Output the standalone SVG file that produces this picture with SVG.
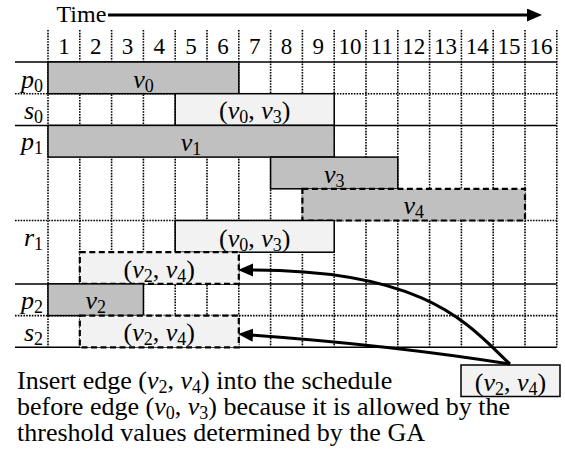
<svg xmlns="http://www.w3.org/2000/svg" width="565" height="458" viewBox="0 0 565 458" font-family="Liberation Serif">
<style>
text{font-family:"Liberation Serif","Times New Roman",serif;font-size:26px;fill:#000}
.hd{font-size:23px}
.tm{font-size:24px}
.i{font-style:italic}
.sub{font-size:18px;font-style:normal}
.m{text-anchor:middle}
.e{text-anchor:end}
.vd{stroke:#000;stroke-width:1.6;stroke-dasharray:1.6 1.2;fill:none}
.hs{stroke:#000;stroke-width:1.5;fill:none}
.dk{fill:#c0c0c0;stroke:#000;stroke-width:1.5}
.lt{fill:#f2f2f2;stroke:#000;stroke-width:1.5}
.dsh{stroke-dasharray:6 3.5;stroke-width:2.2}
.conn{fill:none;stroke:#000;stroke-width:3}
</style>
<defs>
<marker id="ah" markerUnits="userSpaceOnUse" markerWidth="16" markerHeight="14" refX="2" refY="6.5" orient="auto">
<path d="M0,0 L15,6.5 L0,13 z" fill="#000"/>
</marker>
</defs>
<rect width="565" height="458" fill="#fff"/>

<g id="header">
<text class="tm" x="56.5" y="22">Time</text>
<text class="hd m" x="63.9" y="54">1</text><text class="hd m" x="95.7" y="54">2</text><text class="hd m" x="127.5" y="54">3</text><text class="hd m" x="159.3" y="54">4</text>
<text class="hd m" x="191.1" y="54">5</text><text class="hd m" x="222.9" y="54">6</text><text class="hd m" x="254.7" y="54">7</text><text class="hd m" x="286.5" y="54">8</text>
<text class="hd m" x="318.3" y="54">9</text><text class="hd m" x="350.1" y="54">10</text><text class="hd m" x="381.9" y="54">11</text><text class="hd m" x="413.7" y="54">12</text>
<text class="hd m" x="445.5" y="54">13</text><text class="hd m" x="477.3" y="54">14</text><text class="hd m" x="509.1" y="54">15</text><text class="hd m" x="540.9" y="54">16</text>
</g>

<g id="grid">
<path class="vd" d="M48,30V347.3M79.8,30V347.3M111.6,30V347.3M143.4,30V347.3M175.2,30V347.3M207,30V347.3M238.8,30V347.3M270.6,30V347.3M302.4,30V347.3M334.2,30V347.3M366,30V347.3M397.8,30V347.3M429.6,30V347.3M461.4,30V347.3M493.2,30V347.3M525,30V347.3M556.8,30V347.3"/>
<path class="vd" d="M15,93.7H556.8M15,220.5H556.8M15,315.6H556.8"/>
<path class="hs" d="M15,62H556.8M15,125.4H556.8M15,283.9H556.8M15,347.3H556.8"/>
</g>

<g id="row-labels">
<text class="e" x="43" y="87.5"><tspan class="i">p</tspan><tspan class="sub" dy="4">0</tspan></text>
<text class="e" x="43" y="118.7"><tspan class="i">s</tspan><tspan class="sub" dy="4">0</tspan></text>
<text class="e" x="43" y="150.4"><tspan class="i">p</tspan><tspan class="sub" dy="4">1</tspan></text>
<text class="e" x="43" y="245.8"><tspan class="i">r</tspan><tspan class="sub" dy="4">1</tspan></text>
<text class="e" x="43" y="309.4"><tspan class="i">p</tspan><tspan class="sub" dy="4">2</tspan></text>
<text class="e" x="43" y="341"><tspan class="i">s</tspan><tspan class="sub" dy="4">2</tspan></text>
</g>

<g id="v0">
<rect class="dk" x="48" y="62" width="190.8" height="31.7"/>
<text class="m" x="143.4" y="87.5"><tspan class="i">v</tspan><tspan class="sub" dy="4">0</tspan></text>
</g>
<g id="s0-v0v3">
<rect class="lt" x="175.2" y="93.7" width="159" height="31.7"/>
<text class="m" x="254.7" y="119.2">(<tspan class="i">v</tspan><tspan class="sub" dy="4">0</tspan><tspan dy="-4">, </tspan><tspan class="i">v</tspan><tspan class="sub" dy="4">3</tspan><tspan dy="-4">)</tspan></text>
</g>
<g id="v1">
<rect class="dk" x="48" y="125.4" width="286.2" height="31.7"/>
<text class="m" x="191.1" y="150.9"><tspan class="i">v</tspan><tspan class="sub" dy="4">1</tspan></text>
</g>
<g id="v3">
<rect class="dk" x="270.6" y="157.1" width="127.2" height="31.7"/>
<text class="m" x="334.2" y="182.6"><tspan class="i">v</tspan><tspan class="sub" dy="4">3</tspan></text>
</g>
<g id="v4">
<rect class="dk dsh" x="302.4" y="188.8" width="222.6" height="31.7"/>
<text class="m" x="413.7" y="214.3"><tspan class="i">v</tspan><tspan class="sub" dy="4">4</tspan></text>
</g>
<g id="r1-v0v3">
<rect class="lt" x="175.2" y="220.5" width="159" height="31.7"/>
<text class="m" x="254.7" y="246.5">(<tspan class="i">v</tspan><tspan class="sub" dy="4">0</tspan><tspan dy="-4">, </tspan><tspan class="i">v</tspan><tspan class="sub" dy="4">3</tspan><tspan dy="-4">)</tspan></text>
</g>
<g id="r1-v2v4">
<rect class="lt dsh" x="79.8" y="252.2" width="159" height="31.7"/>
<text class="m" x="159.3" y="278">(<tspan class="i">v</tspan><tspan class="sub" dy="4">2</tspan><tspan dy="-4">, </tspan><tspan class="i">v</tspan><tspan class="sub" dy="4">4</tspan><tspan dy="-4">)</tspan></text>
</g>
<g id="v2">
<rect class="dk" x="48" y="283.9" width="95.4" height="31.7"/>
<text class="m" x="95.7" y="309.4"><tspan class="i">v</tspan><tspan class="sub" dy="4">2</tspan></text>
</g>
<g id="s2-v2v4">
<rect class="lt dsh" x="79.8" y="315.6" width="159" height="31.7"/>
<text class="m" x="159.3" y="341.4">(<tspan class="i">v</tspan><tspan class="sub" dy="4">2</tspan><tspan dy="-4">, </tspan><tspan class="i">v</tspan><tspan class="sub" dy="4">4</tspan><tspan dy="-4">)</tspan></text>
</g>
<g id="new-edge">
<rect class="lt" x="461" y="365" width="99" height="31.5"/>
<text class="m" x="510.5" y="391">(<tspan class="i">v</tspan><tspan class="sub" dy="4">2</tspan><tspan dy="-4">, </tspan><tspan class="i">v</tspan><tspan class="sub" dy="4">4</tspan><tspan dy="-4">)</tspan></text>
</g>

<g id="connectors">
<path class="conn" d="M108,15H529" marker-end="url(#ah)" stroke-width="2.6"/>
<path class="conn" d="M510,364C470,327 430,270 251,270" marker-end="url(#ah)"/>
<path class="conn" d="M510,364Q390,345 251,335" marker-end="url(#ah)"/>
</g>

<g id="caption">
<text x="17" y="389">Insert edge (<tspan class="i">v</tspan><tspan class="sub" dy="4">2</tspan><tspan dy="-4">, </tspan><tspan class="i">v</tspan><tspan class="sub" dy="4">4</tspan><tspan dy="-4">) into the schedule</tspan></text>
<text x="17" y="415">before edge (<tspan class="i">v</tspan><tspan class="sub" dy="4">0</tspan><tspan dy="-4">, </tspan><tspan class="i">v</tspan><tspan class="sub" dy="4">3</tspan><tspan dy="-4">) because it is allowed by the</tspan></text>
<text x="17" y="441">threshold values determined by the GA</text>
</g>
</svg>
